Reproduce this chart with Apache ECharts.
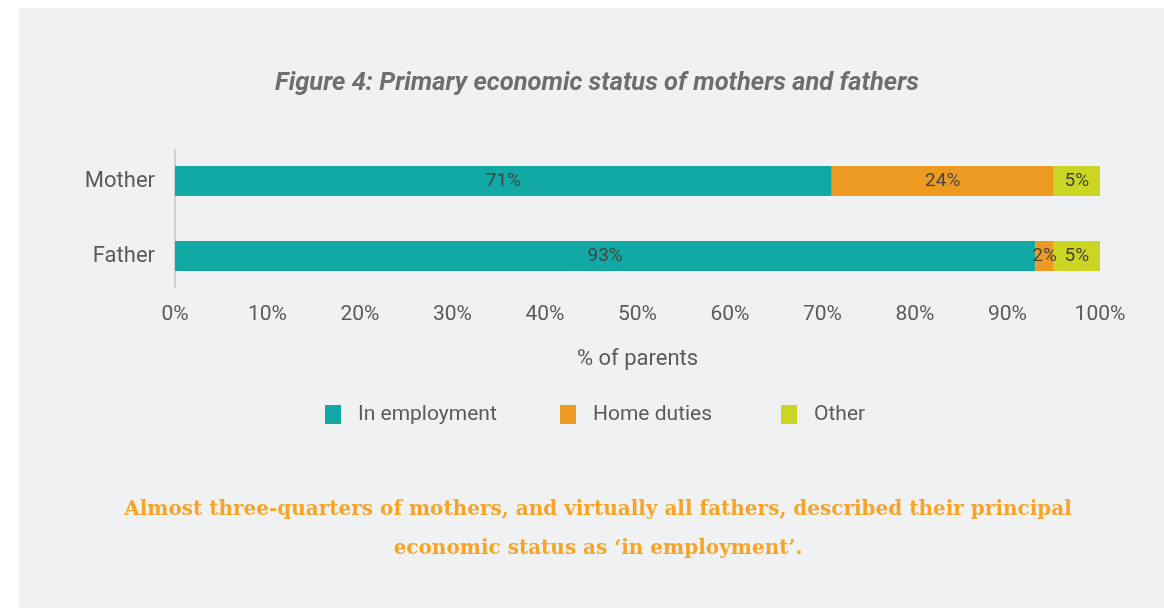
<!DOCTYPE html>
<html>
<head>
<meta charset="utf-8">
<script src="https://cdn.jsdelivr.net/npm/echarts@6/dist/echarts.min.js"></script>
<style>
  html, body { margin: 0; padding: 0; background: #ffffff; }
  #chart { width: 1164px; height: 608px; }
</style>
</head>
<body>
<div id="chart"></div>
<script>
// Parent groups (top to bottom) and share of each status, in percent
const categories = ['Mother', 'Father'];
const seriesNames = ['In employment', 'Home duties', 'Other'];
const inEmployment = [71, 93];
const homeDuties = [24, 2];
const other = [5, 5];
const tickValues = [0, 10, 20, 30, 40, 50, 60, 70, 80, 90, 100];

const colors = ['#12a8a3', '#ec9a22', '#cbd524'];
const textColor = '#5a5a5a';
const font = 'Roboto';

function barSeries(name, data, color) {
  return {
    name: name,
    type: 'bar',
    stack: 'total',
    barWidth: 30,
    data: data,
    itemStyle: { color: color },
    label: {
      show: true,
      position: 'inside',
      formatter: p => p.value + '%',
      color: '#444',
      fontFamily: font,
      fontSize: 19,
      overflow: 'none'
    },
    emphasis: { disabled: true }
  };
}

// One legend block per series so each entry sits at its own spot
const legendLefts = [325, 560, 781];
const legends = seriesNames.map((name, i) => ({
  data: [name],
  top: 404,
  left: legendLefts[i],
  padding: 0,
  icon: 'rect',
  itemWidth: 16,
  itemHeight: 19,
  textStyle: { fontFamily: font, fontSize: 21, color: textColor, padding: [0, 0, 0, 12] },
  selectedMode: false
}));

const chart = echarts.init(document.getElementById('chart'), null, { renderer: 'canvas' });
chart.setOption({
  backgroundColor: '#ffffff',
  animation: false,
  color: colors,
  grid: { left: 175, right: 64, top: 143.5, height: 150, containLabel: false },
  xAxis: {
    type: 'value',
    min: 0,
    max: 100,
    interval: 10,
    name: '% of parents',
    nameLocation: 'middle',
    nameGap: 55,
    nameTextStyle: { fontFamily: font, fontSize: 22, color: textColor },
    axisLine: { show: false },
    axisTick: { show: false },
    splitLine: { show: false },
    axisLabel: {
      margin: 11,
      fontFamily: font,
      fontSize: 21,
      color: textColor,
      formatter: v => (tickValues.indexOf(v) >= 0 ? v + '%' : '')
    }
  },
  yAxis: {
    type: 'category',
    inverse: true,
    data: categories,
    axisLine: { show: false },
    axisTick: { show: false },
    axisLabel: { margin: 20, fontFamily: font, fontSize: 22, color: textColor }
  },
  legend: legends,
  graphic: [
    {
      type: 'rect',
      z: -10,
      silent: true,
      shape: { x: 19, y: 8, width: 1145, height: 600 },
      style: { fill: '#f0f1f3' }
    },
    {
      // vertical baseline at 0%
      type: 'line',
      z: 1,
      silent: true,
      shape: { x1: 175, y1: 149, x2: 175, y2: 288 },
      style: { stroke: '#d0d0d0', lineWidth: 2 }
    },
    {
      type: 'text',
      x: 597,
      y: 84,
      silent: true,
      style: {
        text: 'Figure 4: Primary economic status of mothers and fathers',
        align: 'center',
        verticalAlign: 'middle',
        fontFamily: font,
        fontStyle: 'italic',
        fontWeight: 'bold',
        fontSize: 25.5,
        fill: '#6e6e6e'
      }
    },
    {
      type: 'text',
      x: 598,
      y: 529,
      silent: true,
      style: {
        text: 'Almost three-quarters of mothers, and virtually all fathers, described their principal\neconomic status as \u2018in employment\u2019.',
        align: 'center',
        verticalAlign: 'middle',
        fontFamily: 'DejaVu Serif',
        fontWeight: 'bold',
        fontSize: 20,
        lineHeight: 39,
        fill: '#f6a425'
      }
    }
  ],
  series: [
    barSeries(seriesNames[0], inEmployment, colors[0]),
    barSeries(seriesNames[1], homeDuties, colors[1]),
    barSeries(seriesNames[2], other, colors[2])
  ]
});
</script>
</body>
</html>
